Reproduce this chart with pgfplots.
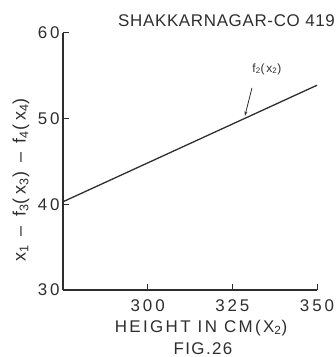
\documentclass[border=0pt]{standalone}
\usepackage{pgfplots}
\pgfplotsset{compat=1.18}
\usetikzlibrary{arrows.meta}
\usepackage{fontspec}
\setmainfont{Liberation Sans}
\definecolor{ink}{HTML}{2E2E2E}
\begin{document}
\begin{tikzpicture}
\useasboundingbox (0bp,0bp) rectangle (336bp,357bp);
\begin{axis}[
  at={(63bp,67bp)}, anchor=south west,
  scale only axis, width=254bp, height=257bp,
  xmin=275, xmax=350, ymin=30, ymax=60,
  axis lines=left,
  axis line style={-, line width=1.3pt, ink},
  xtick={300,325,350}, ytick={30,40,50,60},
  tick align=inside, major tick length=6bp,
  tick style={line width=1pt, ink},
  ticklabel style={font=\fontsize{17}{17}\selectfont\addfontfeature{LetterSpace=17}, text=ink},
  xticklabel style={yshift=-6bp},
  /pgf/number format/assume math mode=true,
  clip=false,
]
\addplot[ink, line width=1.3pt] coordinates {(275,40.3) (350,53.9)};
\draw[ink, line width=0.8pt, -{Stealth[length=5bp,width=3bp]}] (axis cs:330.8,53.6) -- (axis cs:328.7,50.3);
\node[ink, font=\fontsize{12}{12}\selectfont\addfontfeature{LetterSpace=14}] at (axis cs:335.2,55.8) {f\textsubscript{2}(x\textsubscript{2})};
\end{axis}
\node[ink, anchor=west, inner sep=0pt, font=\fontsize{17}{17}\selectfont\addfontfeature{LetterSpace=4}] at (118bp,336bp) {SHAKKARNAGAR-CO 419};
\node[ink, rotate=90, font=\fontsize{18}{18}\selectfont\addfontfeature{LetterSpace=24}] at (21bp,177bp) {x\textsubscript{1} -- f\textsubscript{3}(x\textsubscript{3}) -- f\textsubscript{4}(x\textsubscript{4})};
\node[ink, font=\fontsize{17}{17}\selectfont\addfontfeature{LetterSpace=14}] at (201bp,29bp) {HEIGHT IN CM(X\textsubscript{2})};
\node[ink, font=\fontsize{17}{17}\selectfont\addfontfeature{LetterSpace=8}] at (203bp,8bp) {FIG.26};
\end{tikzpicture}
\end{document}
